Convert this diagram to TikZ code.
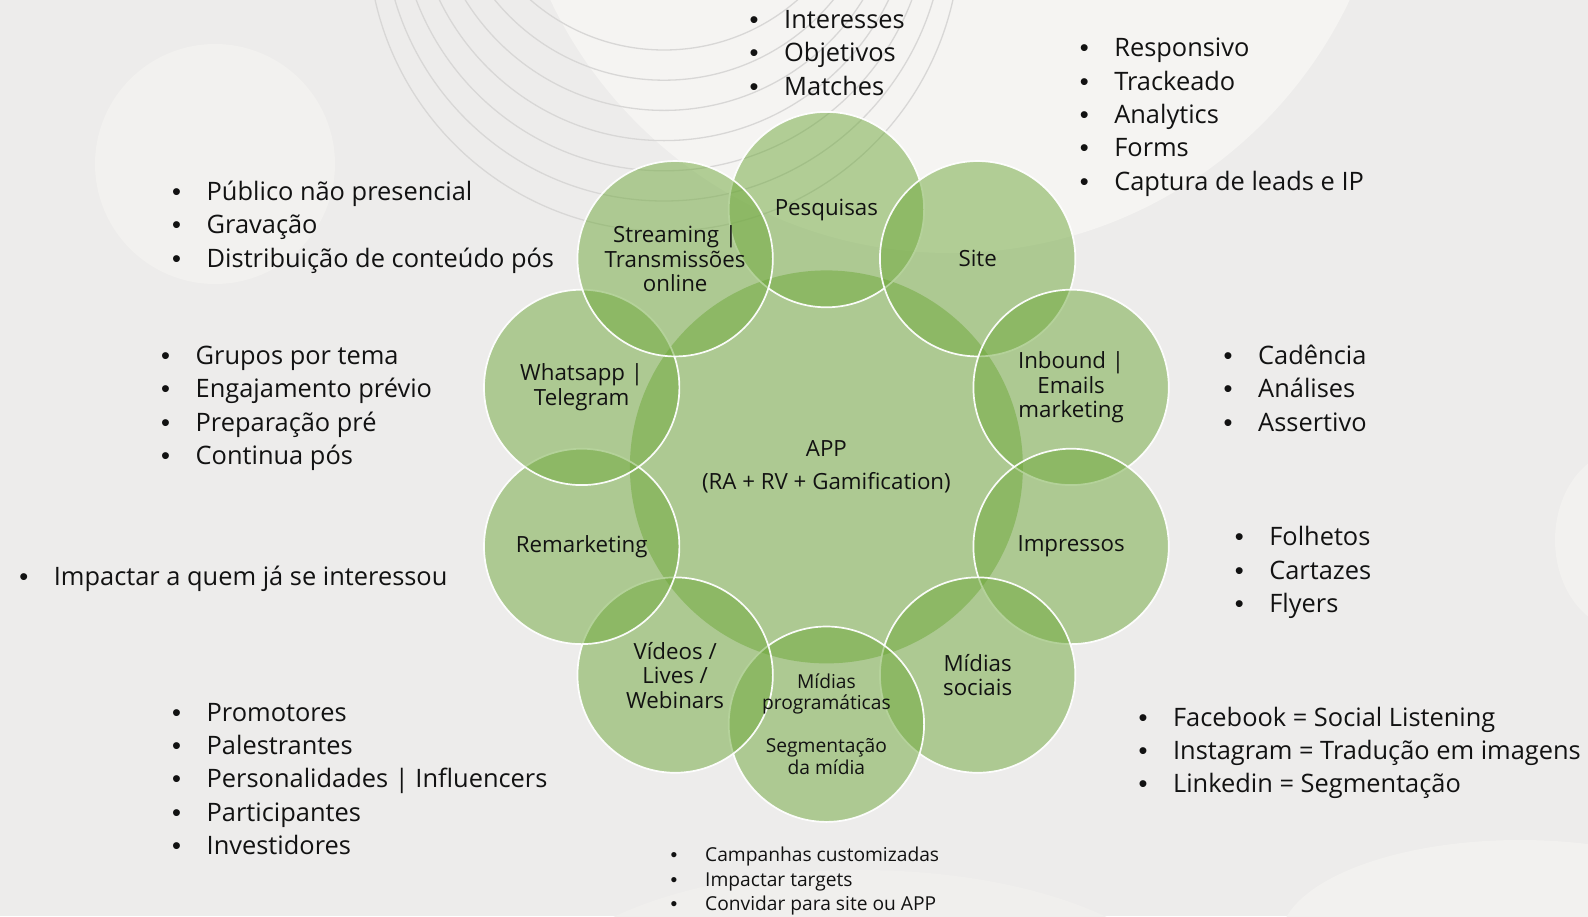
\documentclass[tikz,border=0pt]{standalone}
\usepackage{fontspec}
\setmainfont{Open Sans}
\newfontfamily\bulfont{Liberation Sans}
\usetikzlibrary{calc}
\definecolor{bgc}{RGB}{237,236,235}
\definecolor{lightc}{RGB}{245,244,242}
\definecolor{blobc}{RGB}{242,241,239}
\definecolor{arcc}{RGB}{216,215,214}
\definecolor{petalg}{RGB}{110,168,58}
\definecolor{inkc}{RGB}{18,18,18}
\newcommand\fsBul{\fontsize{25.4}{33.4}\selectfont}
\newcommand\fsCirc{\fontsize{22.3}{24.5}\selectfont}
\newcommand\fsSmall{\fontsize{19.2}{24.3}\selectfont}
\newcommand\fsProg{\fontsize{19.2}{21.5}\selectfont}
\newcommand\blist[6]{%
  \foreach \t [count=\i] in {#6}{%
    \pgfmathsetmacro\yy{#3+#4*(\i-1)}%
    \node[item,font=#5] (#1\i) at (#2,\yy) {\makebox[34.5pt][l]{\bulfont •}\t};
  }}
\begin{document}
\begin{tikzpicture}[x=1pt,y=-1pt,
  item/.style={anchor=base west,inner sep=0pt,text=inkc},
  hubdisc/.style={circle,minimum size=393pt,inner sep=0pt,fill=petalg,fill opacity=0.5},
  petal/.style={circle,minimum size=195.4pt,inner sep=0pt,fill=petalg,fill opacity=0.5,
    draw=white,draw opacity=0.95,line width=1.7pt},
  ctext/.style={align=center,inner sep=0pt,text=inkc,font=\fsCirc},
  bgline/.style={draw=arcc,line width=1.3pt}]
\useasboundingbox (0,0) rectangle (1588,916);
% background
\begin{scope}
\clip (0,0) rectangle (1588,916);
\fill[bgc] (0,0) rectangle (1588,916);
\fill[lightc] (950,-189) circle (442);
\fill[blobc] (215,164) circle (120);
\fill[blobc] (1520,940) ellipse (240 and 100);
\fill[blobc] (1625,540) ellipse (70 and 90);
\fill[blobc!60!bgc] (860,1010) ellipse (330 and 140);
\foreach \k in {0,...,6}{
  \pgfmathsetmacro\cy{-153+14.7*\k}
  \pgfmathsetmacro\rr{203+15.5*\k}
  \draw[bgline] (664,\cy) circle (\rr);
}
\end{scope}
% circles
\node[hubdisc] (hub) at (826.4,466.9) {};
\foreach \a/\n in {90/pes,54/sit,18/inb,-18/imp,-54/soc,-90/prg,-126/vid,-162/rem,162/wha,126/str}{
  \node[petal] (\n) at ($(hub.center)+(-\a:257.3)$) {};
}
% circle texts
\node[ctext] (thub) at (hub.center) {APP\\[8pt](RA + RV + Gamification)};
\node[ctext] (tpes) at (pes.center) {Pesquisas};
\node[ctext] (tsit) at (sit.center) {Site};
\node[ctext] (tinb) at (inb.center) {Inbound |\\Emails\\marketing};
\node[ctext] (timp) at (imp.center) {Impressos};
\node[ctext] (tsoc) at (soc.center) {Mídias\\sociais};
\node[ctext,font=\fsProg] (tprg) at (prg.center) {Mídias\\programáticas\\[21.5pt]Segmentação\\da mídia};
\node[ctext] (tvid) at (vid.center) {Vídeos /\\Lives /\\Webinars};
\node[ctext] (trem) at (rem.center) {Remarketing};
\node[ctext] (twha) at (wha.center) {Whatsapp |\\Telegram};
\node[ctext] (tstr) at (str.center) {Streaming |\\Transmissões\\online};
% bullet lists
\blist{top}{749.5}{28.2}{33.43}{\fsBul}{Interesses,Objetivos,Matches}
\blist{res}{1079.6}{56.6}{33.43}{\fsBul}{Responsivo,Trackeado,Analytics,Forms,Captura de leads e IP}
\blist{pub}{172}{200.4}{33.43}{\fsBul}{Público não presencial,Gravação,Distribuição de conteúdo pós}
\blist{grp}{161}{364.5}{33.43}{\fsBul}{Grupos por tema,Engajamento prévio,Preparação pré,Continua pós}
\blist{cad}{1223.5}{364.5}{33.43}{\fsBul}{Cadência,Análises,Assertivo}
\blist{fol}{1234.6}{545.8}{33.43}{\fsBul}{Folhetos,Cartazes,Flyers}
\blist{ipc}{19.2}{585.3}{33.43}{\fsBul}{Impactar a quem já se interessou}
\blist{pro}{172}{721}{33.43}{\fsBul}{Promotores,Palestrantes,Personalidades | Influencers,Participantes,Investidores}
\blist{fbk}{1138.4}{726}{33.43}{\fsBul}{Facebook = Social Listening,Instagram = Tradução em imagens,Linkedin = Segmentação}
\blist{sml}{670.5}{861.8}{24.3}{\fsSmall}{Campanhas customizadas,Impactar targets,Convidar para site ou APP}
\end{tikzpicture}
\end{document}
